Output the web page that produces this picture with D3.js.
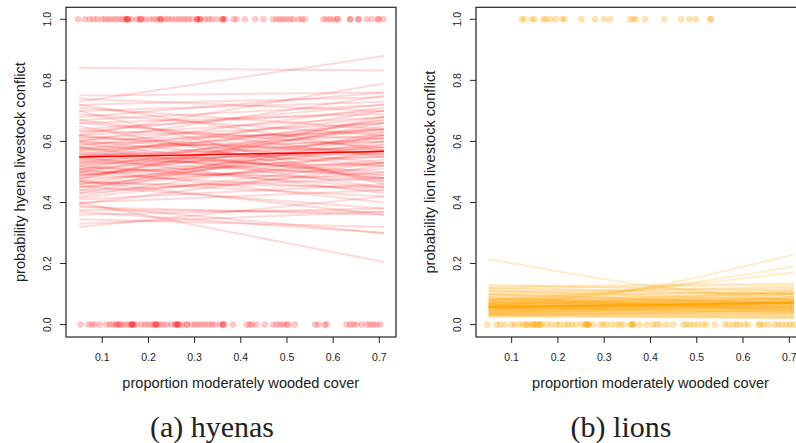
<!DOCTYPE html>
<html>
<head>
<meta charset="utf-8">
<script src="https://cdn.jsdelivr.net/npm/d3@7"></script>
<style>
  body { margin: 0; background: #fff; }
  svg { display: block; }
</style>
</head>
<body>
<svg id="fig" width="796" height="443"></svg>
<script>
// Axis ticks
const xTicks = [0.1, 0.2, 0.3, 0.4, 0.5, 0.6, 0.7];
const yTicks = [0.0, 0.2, 0.4, 0.6, 0.8, 1.0];
const xTitle = "proportion moderately wooded cover";

// Hyena conflict observations: wooded-cover proportion of sites with conflict (1) / without (0)
const hyenaPresent = [0.048, 0.063, 0.073, 0.081, 0.089, 0.099, 0.106, 0.113, 0.120, 0.128, 0.135, 0.142,
  0.149, 0.153, 0.153, 0.156, 0.156, 0.164, 0.175, 0.182, 0.182, 0.185, 0.193, 0.203, 0.211, 0.218,
  0.225, 0.225, 0.229, 0.236, 0.243, 0.250, 0.258, 0.265, 0.272, 0.279, 0.286, 0.294, 0.305, 0.305,
  0.308, 0.312, 0.312, 0.322, 0.330, 0.337, 0.348, 0.359, 0.362, 0.362, 0.366, 0.384, 0.391, 0.409,
  0.431, 0.449, 0.470, 0.478, 0.485, 0.492, 0.499, 0.507, 0.514, 0.525, 0.532, 0.539, 0.579, 0.586,
  0.593, 0.600, 0.608, 0.611, 0.637, 0.637, 0.655, 0.655, 0.673, 0.684, 0.698, 0.698, 0.709];
const hyenaAbsent = [0.053, 0.070, 0.077, 0.084, 0.095, 0.110, 0.117, 0.124, 0.131, 0.131, 0.138, 0.138,
  0.146, 0.153, 0.160, 0.164, 0.164, 0.167, 0.167, 0.175, 0.185, 0.193, 0.200, 0.207, 0.214, 0.214,
  0.218, 0.218, 0.225, 0.232, 0.240, 0.250, 0.258, 0.261, 0.261, 0.265, 0.265, 0.272, 0.283, 0.283,
  0.294, 0.301, 0.308, 0.315, 0.322, 0.330, 0.337, 0.344, 0.355, 0.361, 0.362, 0.364, 0.383, 0.413,
  0.420, 0.424, 0.434, 0.452, 0.470, 0.478, 0.485, 0.492, 0.499, 0.503, 0.517, 0.561, 0.568, 0.582,
  0.586, 0.629, 0.637, 0.644, 0.651, 0.662, 0.673, 0.680, 0.687, 0.694, 0.702];

// Posterior draws for hyenas: predicted probability at the low and high end of wooded cover
const hyenaDrawX = [0.05, 0.71];
const hyenaDraws = [
  [0.841, 0.832], [0.73, 0.88], [0.62, 0.79], [0.75, 0.76], [0.74, 0.70], [0.72, 0.745], [0.70, 0.73],
  [0.69, 0.62], [0.67, 0.72], [0.67, 0.55], [0.66, 0.69], [0.65, 0.47], [0.64, 0.70], [0.62, 0.68],
  [0.61, 0.66], [0.60, 0.75], [0.60, 0.52], [0.59, 0.64], [0.58, 0.60], [0.58, 0.45], [0.575, 0.68],
  [0.57, 0.62], [0.565, 0.50], [0.56, 0.66], [0.555, 0.58], [0.55, 0.43], [0.55, 0.70], [0.545, 0.60],
  [0.54, 0.56], [0.535, 0.49], [0.53, 0.64], [0.525, 0.55], [0.52, 0.61], [0.515, 0.47], [0.51, 0.67],
  [0.505, 0.58], [0.50, 0.53], [0.50, 0.65], [0.495, 0.44], [0.49, 0.57], [0.485, 0.62], [0.48, 0.51],
  [0.475, 0.68], [0.47, 0.56], [0.465, 0.45], [0.46, 0.60], [0.455, 0.38], [0.45, 0.54], [0.44, 0.63],
  [0.43, 0.50], [0.42, 0.57], [0.41, 0.46], [0.40, 0.205], [0.395, 0.52], [0.385, 0.36], [0.375, 0.37],
  [0.37, 0.30], [0.36, 0.38], [0.345, 0.32], [0.33, 0.37], [0.32, 0.42], [0.62, 0.53], [0.60, 0.57],
  [0.58, 0.49], [0.57, 0.64], [0.56, 0.48], [0.55, 0.61], [0.54, 0.52], [0.53, 0.57], [0.52, 0.45],
  [0.51, 0.59], [0.50, 0.48], [0.49, 0.55], [0.48, 0.66], [0.47, 0.42], [0.46, 0.53], [0.45, 0.59],
  [0.44, 0.48], [0.43, 0.62], [0.415, 0.53], [0.40, 0.44], [0.68, 0.76], [0.71, 0.64], [0.66, 0.58],
  [0.63, 0.72], [0.585, 0.71], [0.605, 0.63], [0.615, 0.56], [0.635, 0.61], [0.595, 0.48], [0.545, 0.67],
  [0.72, 0.57], [0.70, 0.46], [0.51, 0.40], [0.47, 0.36], [0.39, 0.30]
];
const hyenaMean = [0.549, 0.567];

// Lion conflict observations
const lionPresent = [0.122, 0.127, 0.143, 0.150, 0.168, 0.174, 0.183, 0.195, 0.209, 0.214, 0.251, 0.280,
  0.300, 0.313, 0.356, 0.363, 0.368, 0.388, 0.430, 0.467, 0.484, 0.498, 0.529, 0.531];
const lionAbsent = [0.047, 0.068, 0.075, 0.086, 0.100, 0.107, 0.118, 0.125, 0.132, 0.132, 0.140, 0.147,
  0.147, 0.154, 0.154, 0.161, 0.161, 0.165, 0.176, 0.186, 0.197, 0.204, 0.215, 0.222, 0.230, 0.240,
  0.251, 0.259, 0.262, 0.262, 0.266, 0.266, 0.276, 0.291, 0.298, 0.305, 0.316, 0.327, 0.334, 0.341,
  0.356, 0.359, 0.363, 0.363, 0.377, 0.392, 0.406, 0.413, 0.421, 0.435, 0.449, 0.471, 0.478, 0.485,
  0.493, 0.503, 0.514, 0.521, 0.539, 0.561, 0.568, 0.579, 0.586, 0.593, 0.604, 0.611, 0.633, 0.637,
  0.644, 0.655, 0.669, 0.676, 0.684, 0.694, 0.702, 0.709];

// Posterior draws for lions: predicted probability at low, middle and high wooded cover
const lionDrawX = [0.05, 0.38, 0.71];
const lionDraws = [
  [0.215, 0.131, 0.08], [0.06, 0.118, 0.23], [0.07, 0.115, 0.19], [0.08, 0.117, 0.17],
  [0.13, 0.12, 0.11], [0.125, 0.13, 0.135], [0.12, 0.11, 0.10], [0.115, 0.115, 0.125],
  [0.11, 0.095, 0.08], [0.105, 0.11, 0.12], [0.10, 0.10, 0.105], [0.098, 0.085, 0.07],
  [0.095, 0.10, 0.115], [0.09, 0.08, 0.07], [0.088, 0.092, 0.10], [0.085, 0.075, 0.065],
  [0.082, 0.085, 0.095], [0.08, 0.07, 0.06], [0.078, 0.08, 0.085], [0.075, 0.068, 0.06],
  [0.073, 0.08, 0.09], [0.07, 0.065, 0.058], [0.068, 0.075, 0.085], [0.066, 0.06, 0.055],
  [0.064, 0.07, 0.08], [0.062, 0.058, 0.052], [0.06, 0.067, 0.078], [0.058, 0.055, 0.05],
  [0.056, 0.064, 0.075], [0.055, 0.05, 0.045], [0.053, 0.06, 0.07], [0.051, 0.047, 0.042],
  [0.05, 0.058, 0.068], [0.048, 0.045, 0.04], [0.046, 0.055, 0.066], [0.045, 0.042, 0.038],
  [0.043, 0.05, 0.06], [0.042, 0.038, 0.034], [0.04, 0.048, 0.058], [0.038, 0.035, 0.03],
  [0.036, 0.045, 0.056], [0.035, 0.031, 0.027], [0.033, 0.04, 0.05], [0.031, 0.028, 0.025],
  [0.03, 0.037, 0.047], [0.028, 0.026, 0.022], [0.065, 0.08, 0.10], [0.07, 0.085, 0.11],
  [0.055, 0.07, 0.09], [0.045, 0.06, 0.08], [0.09, 0.07, 0.05], [0.085, 0.065, 0.045],
  [0.075, 0.06, 0.045], [0.06, 0.05, 0.04], [0.10, 0.085, 0.07], [0.05, 0.065, 0.085],
  [0.04, 0.055, 0.075], [0.035, 0.05, 0.07], [0.08, 0.09, 0.105], [0.065, 0.075, 0.09],
  [0.058, 0.062, 0.068], [0.062, 0.066, 0.071], [0.054, 0.056, 0.06], [0.07, 0.072, 0.076],
  [0.12, 0.125, 0.13], [0.11, 0.105, 0.10], [0.032, 0.034, 0.036], [0.026, 0.024, 0.021]
];
const lionMean = [0.058, 0.064, 0.072];

const svg = d3.select("#fig");
const sansFont = "'Liberation Sans', Arial, Helvetica, sans-serif";

function panel(opt) {
  const g = svg.append("g");
  const x = d3.scaleLinear().domain([0, 0.7]).range(opt.xRange);
  const y = d3.scaleLinear().domain([0, 1]).range([324.6, 19.3]);
  const box = opt.box; // [left, top, right, bottom]

  const clipId = "clip-" + opt.id;
  svg.append("clipPath").attr("id", clipId)
    .append("rect").attr("x", box[0]).attr("y", box[1])
    .attr("width", box[2] - box[0]).attr("height", box[3] - box[1]);

  const plot = g.append("g").attr("clip-path", `url(#${clipId})`);

  // observed sites
  const dots = plot.append("g").attr("fill", opt.pointColor);
  dots.selectAll(".p1").data(opt.present).join("circle")
    .attr("cx", d => x(d)).attr("cy", y(1)).attr("r", 3.3);
  dots.selectAll(".p0").data(opt.absent).join("circle")
    .attr("cx", d => x(d)).attr("cy", y(0)).attr("r", 3.3);

  // posterior draws
  const line = d3.line()
    .x((d, i) => x(opt.drawX[i]))
    .y(d => y(d))
    .curve(opt.drawX.length > 2 ? d3.curveNatural : d3.curveLinear);
  plot.append("g").selectAll("path").data(opt.draws).join("path")
    .attr("d", line).attr("fill", "none")
    .attr("stroke", opt.lineColor).attr("stroke-width", 2);

  // posterior mean
  plot.append("path").attr("d", line(opt.mean))
    .attr("fill", "none").attr("stroke", opt.meanColor).attr("stroke-width", 1.6);

  // frame
  g.append("rect").attr("x", box[0]).attr("y", box[1])
    .attr("width", box[2] - box[0]).attr("height", box[3] - box[1])
    .attr("fill", "none").attr("stroke", "#222").attr("stroke-width", 1.2);

  // x axis
  const xa = g.append("g");
  xa.selectAll("line").data(xTicks).join("line")
    .attr("x1", d => x(d)).attr("x2", d => x(d))
    .attr("y1", box[3]).attr("y2", box[3] + 6)
    .attr("stroke", "#222").attr("stroke-width", 1);
  xa.selectAll("text").data(xTicks).join("text")
    .attr("x", d => x(d)).attr("y", 357)
    .attr("text-anchor", "middle").attr("dominant-baseline", "central")
    .attr("font-family", sansFont).attr("font-size", 10.5).attr("fill", "#222")
    .text(d => d3.format(".1f")(d));
  g.append("text").attr("x", (x(0.1) + x(0.7)) / 2).attr("y", 383)
    .attr("text-anchor", "middle").attr("dominant-baseline", "central")
    .attr("font-family", sansFont).attr("font-size", 14.6).attr("fill", "#222")
    .text(xTitle);

  // y axis
  const ya = g.append("g");
  ya.selectAll("line").data(yTicks).join("line")
    .attr("x1", box[0] - 6).attr("x2", box[0])
    .attr("y1", d => y(d)).attr("y2", d => y(d))
    .attr("stroke", "#222").attr("stroke-width", 1);
  ya.selectAll("text").data(yTicks).join("text")
    .attr("transform", d => `translate(${opt.yTickX},${y(d)}) rotate(-90)`)
    .attr("text-anchor", "middle").attr("dominant-baseline", "central")
    .attr("font-family", sansFont).attr("font-size", 10.5).attr("fill", "#222")
    .text(d => d3.format(".1f")(d));
  g.append("text")
    .attr("transform", `translate(${opt.yTitleX},${(box[1] + box[3]) / 2}) rotate(-90)`)
    .attr("text-anchor", "middle").attr("dominant-baseline", "central")
    .attr("font-family", sansFont).attr("font-size", 14.6).attr("fill", "#222")
    .text(opt.yTitle);

  // caption
  svg.append("text").attr("x", opt.captionX).attr("y", 426)
    .attr("text-anchor", "middle").attr("dominant-baseline", "central")
    .attr("font-family", "'Liberation Serif', 'Times New Roman', serif")
    .attr("font-size", 30).attr("fill", "#222")
    .text(opt.caption);
}

panel({
  id: "hyena", box: [66, 7.3, 396, 337], xRange: [56.1, 379.3],
  present: hyenaPresent, absent: hyenaAbsent,
  drawX: hyenaDrawX, draws: hyenaDraws, mean: hyenaMean,
  pointColor: "rgba(255,0,0,0.22)", lineColor: "rgba(255,0,0,0.15)", meanColor: "#ff0000",
  yTitle: "probability hyena livestock conflict", yTickX: 47, yTitleX: 20,
  caption: "(a) hyenas", captionX: 212
});

panel({
  id: "lion", box: [476, 7.3, 808, 337], xRange: [465.4, 789.3],
  present: lionPresent, absent: lionAbsent,
  drawX: lionDrawX, draws: lionDraws, mean: lionMean,
  pointColor: "rgba(255,165,0,0.32)", lineColor: "rgba(255,165,0,0.2)", meanColor: "#ffa500",
  yTitle: "probability lion livestock conflict", yTickX: 457, yTitleX: 430,
  caption: "(b) lions", captionX: 621
});
</script>
</body>
</html>
